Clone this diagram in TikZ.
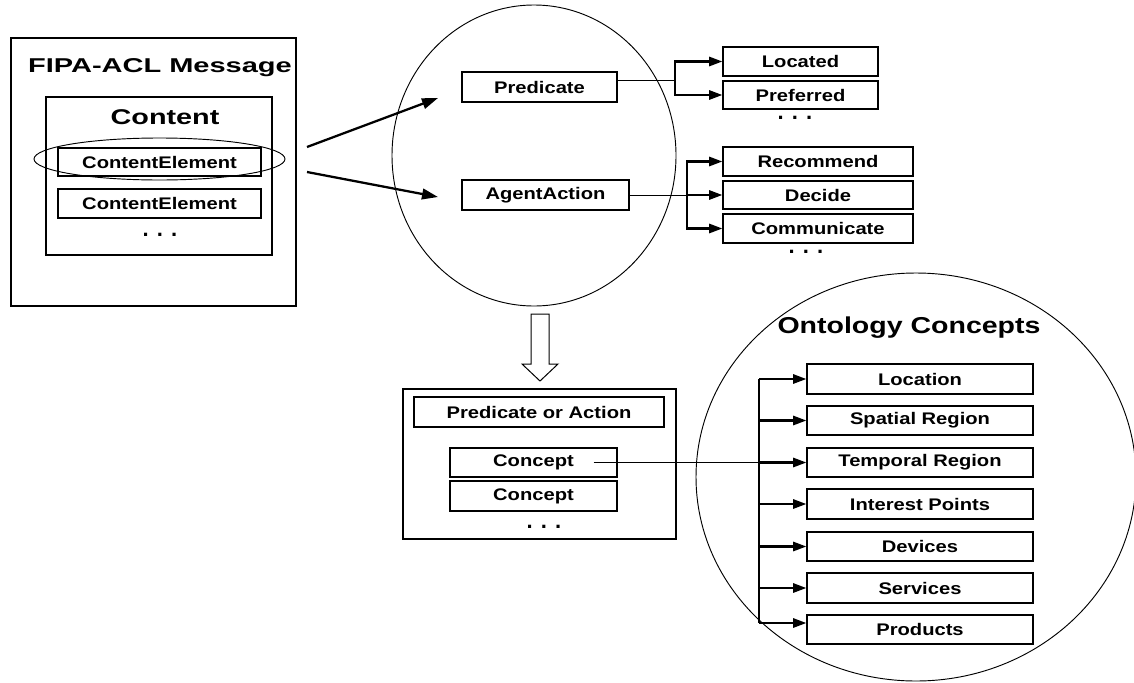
\documentclass[tikz,border=0pt]{standalone}
\usepackage{fontspec}
\setmainfont{Liberation Sans}
\newfontfamily\labfont[FakeStretch=1.2]{Liberation Sans}
\newfontfamily\fipafont[FakeStretch=1.45]{Liberation Sans}
\newfontfamily\contfont[FakeStretch=1.35]{Liberation Sans}
\newfontfamily\ontfont[FakeStretch=1.24]{Liberation Sans}
\usetikzlibrary{shapes.geometric,arrows.meta}
\begin{document}
\begin{tikzpicture}[x=0.75pt,y=-0.75pt,
  bx/.style 2 args={draw, line width=1pt, inner sep=0pt,
    minimum width=#1*0.75pt, minimum height=#2*0.75pt,
    font={\labfont\bfseries\fontsize{12.6}{14}\selectfont}},
  frame/.style 2 args={draw, line width=1pt, inner sep=0pt,
    minimum width=#1*0.75pt, minimum height=#2*0.75pt},
  oval/.style 2 args={draw, ellipse, line width=0.7pt, inner sep=0pt,
    minimum width=#1*0.75pt, minimum height=#2*0.75pt},
  dots/.style={font={\bfseries\fontsize{16.5}{18}\selectfont}, inner sep=0pt},
  thinline/.style={line width=0.75pt},
  arr/.style={line width=1.6pt, -{Triangle[length=10pt,width=7pt]}},
  bigarr/.style={line width=1.7pt, -{Triangle[length=12pt,width=8pt]}},
]
\useasboundingbox (0,0) rectangle (1134,682);

% ---------- FIPA message ----------
\node[frame={285}{268}] (fipa) at (153.5,172) {};
\node[anchor=base, inner sep=0pt, font={\fipafont\bfseries\fontsize{15}{17}\selectfont}] (fipat) at (160,72) {FIPA-ACL Message};
\node[frame={226}{158}] (content) at (159,176) {};
\node[anchor=base, inner sep=0pt, font={\contfont\bfseries\fontsize{16}{18}\selectfont}] (contt) at (165,124) {Content};
\node[bx={203}{28}] (ce1) at (159.5,162) {ContentElement};
\node[bx={203}{29}] (ce2) at (159.5,203.5) {ContentElement};
\node[dots] (d1) at (160,235) {. . .};
\node[oval={251}{42}] (sel) at (159.5,159) {};

% ---------- first circle ----------
\node[oval={284}{301}] (c1) at (534,155.5) {};
\node[bx={155}{30}] (pred) at (539.5,87) {Predicate};
\node[bx={167}{30}] (aa) at (545.5,195) {AgentAction};

\coordinate (s1) at (307,147);
\coordinate (t1) at (438,98);
\coordinate (s2) at (307,172);
\coordinate (t2) at (438,197);
\draw[bigarr] (s1) -- (t1);
\draw[bigarr] (s2) -- (t2);

% ---------- predicates ----------
\node[bx={155}{29}] (loc) at (800.5,61.5) {Located};
\node[bx={155}{28}] (pref) at (800.5,95) {Preferred};
\node[dots] (d2) at (795,118) {. . .};
\coordinate (pb) at (675,80);
\draw[thinline] ([yshift=5.25pt]pred.east) -- (pb);
\draw[arr] (pb) |- (loc.west);
\draw[arr] (pb) |- (pref.west);

% ---------- actions ----------
\node[bx={190}{29}] (rec) at (818,161.5) {Recommend};
\node[bx={190}{28}] (dec) at (818,195) {Decide};
\node[bx={190}{29}] (com) at (818,228.5) {Communicate};
\node[dots] (d3) at (806,252) {. . .};
\coordinate (ab) at (687,195);
\draw[thinline] (aa.east) -- (ab);
\draw[arr] (ab) -- (dec.west);
\draw[arr] (ab) |- (rec.west);
\draw[arr] (ab) |- (com.west);

% ---------- hollow arrow ----------
\draw[line width=0.75pt] (531,314) -- (549,314) -- (549,364) -- (558,364) -- (540,381) -- (522,364) -- (531,364) -- cycle;

% ---------- predicate/action box ----------
\node[frame={273}{150}] (pa) at (539.5,464) {};
\node[bx={250}{30}] (poa) at (539,412) {Predicate or Action};
\node[bx={167}{29}] (con1) at (533.5,462.5) {Concept};
\node[bx={167}{30}] (con2) at (533.5,496) {Concept};
\node[dots] (d4) at (544,527) {. . .};

% ---------- ontology concepts ----------
\node[oval={440}{408}] (c2) at (916,477) {};
\node[anchor=base, inner sep=0pt, font={\ontfont\bfseries\fontsize{17.25}{19}\selectfont}] (ontt) at (909,333) {Ontology Concepts};
\node[bx={226}{30}] (o1) at (920,379) {Location};
\node[bx={226}{29}] (o2) at (920,420.5) {Spatial Region};
\node[bx={226}{29}] (o3) at (920,462.5) {Temporal Region};
\node[bx={226}{30}] (o4) at (920,504) {Interest Points};
\node[bx={226}{29}] (o5) at (920,546.5) {Devices};
\node[bx={226}{30}] (o6) at (920,588) {Services};
\node[bx={226}{29}] (o7) at (920,629.5) {Products};
\coordinate (tt) at (759,379);
\coordinate (tb) at (759,623);
\draw[line width=1.6pt] (tt) -- (tb);
\draw[arr] (tt) -- (o1.west);
\draw[arr] (tt |- o2.west) -- (o2.west);
\draw[arr] (tt |- o3.west) -- (o3.west);
\draw[arr] (tt |- o4.west) -- (o4.west);
\draw[arr] (tt |- o5.west) -- (o5.west);
\draw[arr] (tt |- o6.west) -- (o6.west);
\draw[arr] (tb) -- (tb -| o7.west);
\draw[thinline] ([xshift=-18pt]con1.east) -- (tt |- o3.west);
\end{tikzpicture}
\end{document}
